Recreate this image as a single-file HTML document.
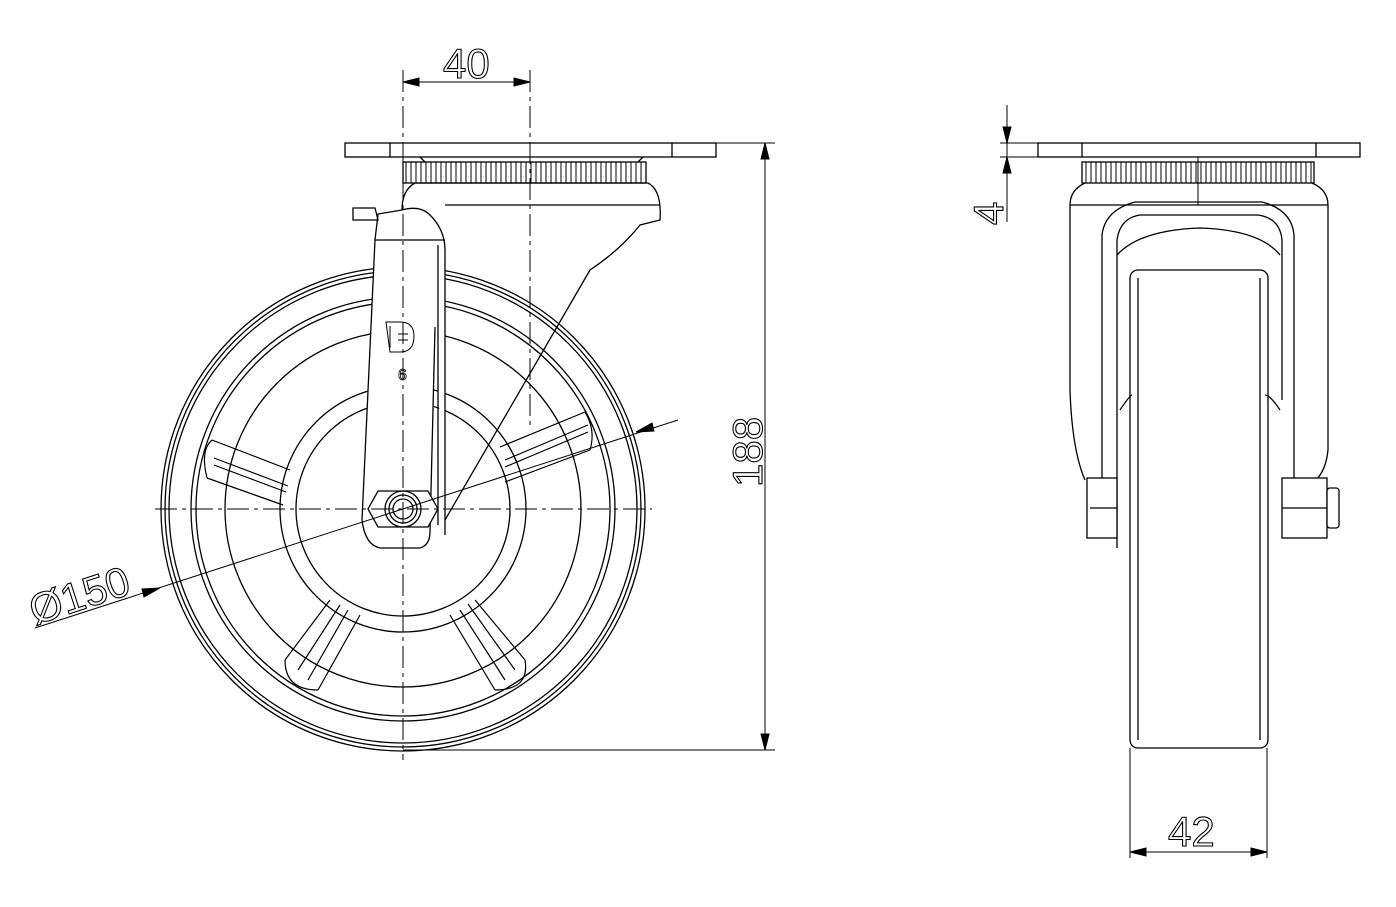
<!DOCTYPE html>
<html><head><meta charset="utf-8"><style>
html,body{margin:0;padding:0;background:#fff}
svg{display:block}
text{font-family:"Liberation Sans",sans-serif;font-size:42px;fill:none;stroke:#000;stroke-width:1.1}
</style></head><body>
<svg width="1396" height="907" viewBox="0 0 1396 907" xmlns="http://www.w3.org/2000/svg" fill="none" stroke="#000" stroke-width="1.3">
<defs>
<pattern id="kn" width="5" height="22" patternUnits="userSpaceOnUse"><line x1="1" y1="0" x2="1" y2="22" stroke="#000" stroke-width="1"/></pattern>
</defs>
<g>
<circle cx="403" cy="509" r="242"/>
<circle cx="403" cy="509" r="238"/>
<circle cx="403" cy="509" r="234"/>
<circle cx="403" cy="509" r="212"/>
<circle cx="403" cy="509" r="207"/>
<circle cx="403" cy="509" r="178"/>
<circle cx="403" cy="509" r="123"/>
<circle cx="403" cy="509" r="107"/>
</g>
<g stroke-width="1.2">
<path d="M212 440 L290 470 M207 478 L283 505 M214 458 L288 486 M214 465 L286 492"/>
<path d="M212 440 Q200 450 207 478"/>
<path d="M585 412 L500 447 M590 450 L505 482 M588 425 L505 460 M588 432 L505 467"/>
<path d="M585 412 Q596 430 590 450"/>
<path d="M330 600 L285 660 M360 615 L318 690 M340 605 L298 670 M348 610 L308 680"/>
<path d="M285 660 Q285 690 318 690"/>
<path d="M475 600 L525 660 M450 615 L495 690 M468 604 L515 670 M460 610 L505 680"/>
<path d="M525 660 Q530 690 495 690"/>
</g>
<path d="M435 327 L430 532 Q430 545 420 548 L380 548 Q365 545 362 520 L375 240 L378 214 L402 210 Q420 205 430 215 Q445 230 445 250 L445 520" fill="#fff"/>
<path d="M353 208 L375 208 L378 220 L353 220 Z"/>
<path d="M375 240 L445 240"/>
<path d="M438 245 L438 525"/>
<path d="M415 183 Q402 190 402 210 M415 183 L648 183 Q662 190 660 220 L640 225 Q620 250 590 270 L445 520 L445 535"/>
<path d="M445 205 L660 205"/>
<rect x="345" y="143" width="371" height="14" fill="#fff"/>
<line x1="390" y1="143" x2="390" y2="157"/><line x1="672" y1="143" x2="672" y2="157"/>
<path d="M420 157 L425 162 M643 157 L638 162"/>
<rect x="403" y="162" width="243" height="21" fill="url(#kn)"/>
<path d="M368 509 L378 491 L428 491 L438 509 L428 527 L378 527 Z" fill="#fff"/>
<circle cx="403" cy="509" r="18"/><circle cx="403" cy="509" r="14"/><circle cx="403" cy="509" r="10"/>
<path d="M386 322 L400 322 Q414 322 414 336 Q414 352 400 352 L390 352 Z M390 326 L390 348" stroke-width="1"/>
<path d="M398 334 L408 334 M398 340 L408 340" stroke-width="1"/>
<text x="398" y="380" style="font-size:16px;stroke-width:0.8">6</text>
<g stroke-dasharray="22 5 4 5" stroke-width="1">
<line x1="155" y1="509" x2="652" y2="509"/>
<line x1="403" y1="70" x2="403" y2="760"/>
<line x1="530" y1="70" x2="530" y2="430"/>
</g>
<g stroke-width="1">
<line x1="403" y1="82" x2="530" y2="82"/>
<path d="M403 82 l16 -4 l0 8 Z M530 82 l-16 -4 l0 8 Z" fill="#000"/>
<line x1="716" y1="143" x2="775" y2="143"/>
<line x1="403" y1="750" x2="775" y2="750"/>
<line x1="765" y1="143" x2="765" y2="750"/>
<path d="M765 143 l-4 16 l8 0 Z M765 750 l-4 -16 l8 0 Z" fill="#000"/>
<line x1="35" y1="628" x2="678" y2="420"/>
<path d="M160 588 l-16 9 l-2 -8 Z M636 432 l16 -9 l2 8 Z" fill="#000"/>
</g>
<text x="443" y="78">40</text>
<text transform="translate(762,487) rotate(-90)">188</text>
<text transform="translate(35,625) rotate(-18)">Ø150</text>
<!-- RIGHT VIEW -->
<rect x="1038" y="143" width="322" height="14" fill="#fff"/>
<line x1="1082" y1="143" x2="1082" y2="157"/><line x1="1316" y1="143" x2="1316" y2="157"/>
<rect x="1082" y="162" width="232" height="21" fill="url(#kn)"/>
<line x1="1198" y1="157" x2="1198" y2="205" stroke-width="1"/>
<path d="M1085 183 Q1070 190 1070 205 L1070 390 Q1072 450 1085 480 M1312 183 Q1328 190 1328 205 L1328 450 Q1326 470 1316 480"/>
<line x1="1070" y1="205" x2="1328" y2="205"/>
<path d="M1102 478 L1102 235 Q1105 210 1135 202 L1262 202 Q1292 210 1294 235 L1294 478"/>
<path d="M1117 548 L1117 240 Q1120 218 1140 215 L1258 215 Q1280 218 1282 240 L1282 400"/>
<path d="M1117 255 Q1140 230 1200 228 Q1260 230 1280 255"/>
<path d="M1120 410 Q1130 395 1132 395 M1280 410 Q1270 395 1265 395"/>
<rect x="1130" y="270" width="138" height="478" rx="8"/>
<line x1="1138" y1="278" x2="1138" y2="740"/><line x1="1260" y1="278" x2="1260" y2="740"/>
<rect x="1087" y="478" width="30" height="60" fill="#fff"/>
<rect x="1282" y="478" width="45" height="60" fill="#fff"/>
<rect x="1327" y="488" width="12" height="40" rx="3" fill="#fff"/>
<line x1="1090" y1="508" x2="1117" y2="508"/><line x1="1282" y1="508" x2="1327" y2="508"/>
<g stroke-width="1">
<line x1="1000" y1="143" x2="1038" y2="143"/>
<line x1="1000" y1="157" x2="1038" y2="157"/>
<line x1="1007" y1="105" x2="1007" y2="222"/>
<path d="M1007 143 l-4 -16 l8 0 Z M1007 157 l-4 16 l8 0 Z" fill="#000"/>
<line x1="1130" y1="748" x2="1130" y2="858"/>
<line x1="1267" y1="748" x2="1267" y2="858"/>
<line x1="1130" y1="852" x2="1267" y2="852"/>
<path d="M1130 852 l16 -4 l0 8 Z M1267 852 l-16 -4 l0 8 Z" fill="#000"/>
</g>
<text transform="translate(1003,225) rotate(-90)">4</text>
<text x="1168" y="846">42</text>
</svg>
</body></html>
